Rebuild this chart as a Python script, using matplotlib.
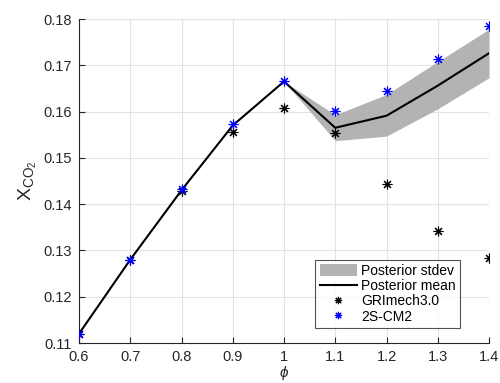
import matplotlib
matplotlib.use("Agg")
import matplotlib.pyplot as plt
import numpy as np

plt.rcParams['font.family'] = ['Liberation Sans', 'DejaVu Sans']
plt.rcParams['mathtext.fontset'] = 'custom'
plt.rcParams['mathtext.rm'] = 'Liberation Sans'
plt.rcParams['mathtext.it'] = 'Liberation Sans:italic'

phi = [0.6, 0.7, 0.8, 0.9, 1.0, 1.1, 1.2, 1.3, 1.4]
post_mean = [0.112, 0.128, 0.143, 0.157, 0.1665, 0.1565, 0.1591, 0.1656, 0.1726]
post_upper = [0.112, 0.128, 0.143, 0.157, 0.1665, 0.1593, 0.1637, 0.1708, 0.1778]
post_lower = [0.112, 0.128, 0.143, 0.157, 0.1665, 0.1537, 0.1547, 0.1606, 0.1673]
gri = [0.112, 0.128, 0.1428, 0.1555, 0.1608, 0.1553, 0.1444, 0.1343, 0.1283]
cm2 = [0.112, 0.128, 0.1432, 0.1573, 0.1665, 0.1601, 0.1645, 0.1713, 0.1784]

fig = plt.figure(figsize=(5.0, 3.83), dpi=100)
ax = fig.add_axes([79/500, 1 - 343/383, (489-79)/500, (343-19)/383])

ax.fill_between(phi, post_lower, post_upper, color='#b3b3b3', linewidth=0,
                label='Posterior stdev', zorder=2)
ax.plot(phi, post_mean, color='black', lw=1.5, label='Posterior mean', zorder=3)
ast = (8, 2, 0)
ax.plot(phi, gri, linestyle='none', marker=ast, color='black', ms=7, mew=0.8,
        label='GRImech3.0', zorder=4)
ax.plot(phi, cm2, linestyle='none', marker=ast, color='blue', ms=7, mew=0.8,
        label='2S-CM2', zorder=5)

ax.set_xlim(0.6, 1.4)
ax.set_ylim(0.11, 0.18)
ax.set_xticks([0.6, 0.7, 0.8, 0.9, 1.0, 1.1, 1.2, 1.3, 1.4])
ax.set_xticklabels(['0.6', '0.7', '0.8', '0.9', '1', '1.1', '1.2', '1.3', '1.4'])
ax.set_yticks(np.arange(0.11, 0.1801, 0.01))
ax.set_yticklabels(['%.2f' % v for v in np.arange(0.11, 0.1801, 0.01)])

ax.grid(True, color='#e3e3e3', lw=0.8)
ax.set_axisbelow(True)
for s in ['top', 'right']:
    ax.spines[s].set_visible(False)
for s in ['left', 'bottom']:
    ax.spines[s].set_color('#262626')
    ax.spines[s].set_linewidth(0.8)
ax.tick_params(direction='in', length=4, width=0.8, colors='#262626',
               labelsize=10.5, labelcolor='#262626', pad=5)

ax.set_xlabel(r'$\phi$', fontsize=11, color='#262626', labelpad=0)
ax.set_ylabel(r'X$_{\mathrm{CO}_2}$', fontsize=14, color='#262626', labelpad=3)

leg = ax.legend(loc='lower right', bbox_to_anchor=(1 - 29/410, 15/324),
                fontsize=10, frameon=True, fancybox=False, borderaxespad=0,
                handlelength=2.7, handleheight=0.95, handletextpad=0.3,
                labelspacing=0.1, borderpad=0.3, markerscale=0.75)
leg.get_frame().set_edgecolor('#262626')
leg.get_frame().set_linewidth(0.8)

fig.savefig('out.png', dpi=100)
